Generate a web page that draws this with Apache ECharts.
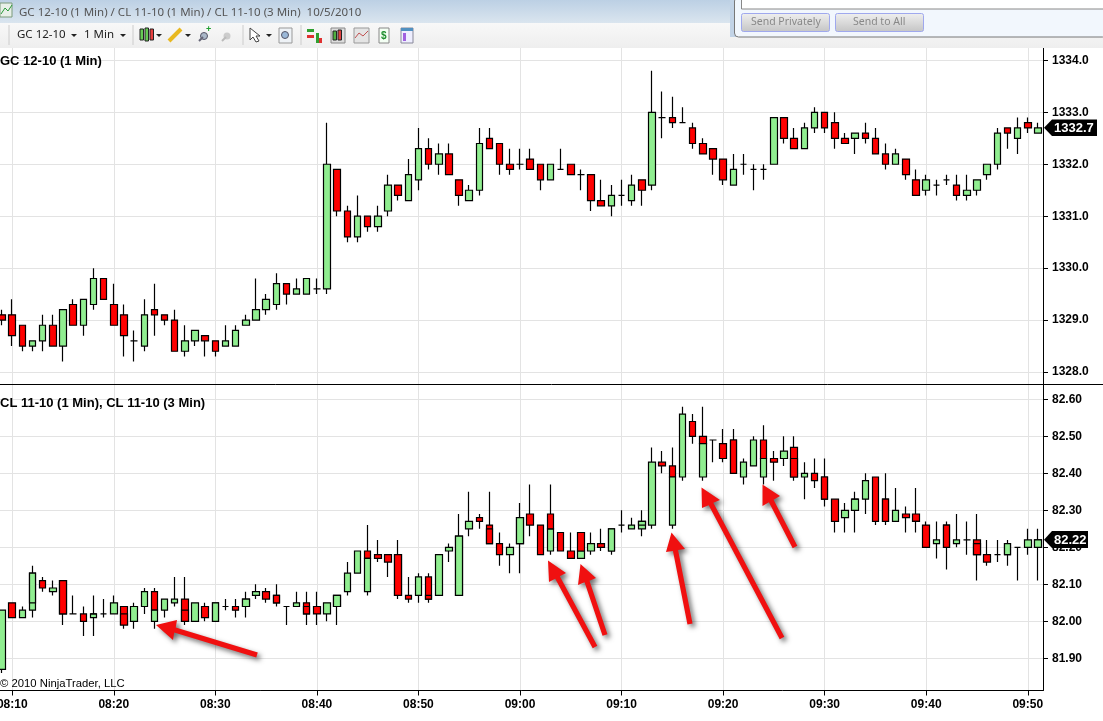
<!DOCTYPE html>
<html><head><meta charset="utf-8">
<style>html,body{margin:0;padding:0;background:#fff}#c{width:1103px;height:721px}</style>
<script src="https://cdn.jsdelivr.net/npm/echarts@6/dist/echarts.min.js"></script>
</head><body><div id="c"></div>
<script>
const firstMinute = 8*60+9;
const minuteCount = 103;
const categories = [];
for (let m=0;m<minuteCount;m++){const t=firstMinute+m;categories.push(String(Math.floor(t/60)).padStart(2,'0')+':'+String(t%60).padStart(2,'0'));}
// rows: [open, close, low, high]
const gcBars = [
[1329.1,1329.0,1328.9,1329.2],[1329.1,1328.7,1328.5,1329.4],[1328.9,1328.5,1328.4,1328.9],[1328.5,1328.6,1328.4,1328.6],
[1328.6,1328.9,1328.4,1329.1],[1328.9,1328.5,1328.5,1329.1],[1328.5,1329.2,1328.2,1329.2],[1329.3,1328.9,1328.9,1329.4],
[1328.9,1329.4,1328.7,1329.4],[1329.3,1329.8,1329.2,1330.0],[1329.8,1329.4,1329.4,1329.8],[1329.3,1328.9,1328.9,1329.7],
[1329.1,1328.7,1328.3,1329.3],[1328.6,1328.6,1328.2,1328.8],[1328.5,1329.1,1328.4,1329.4],[1329.2,1329.1,1328.7,1329.7],
[1329.1,1329.0,1328.9,1329.1],[1329.0,1328.4,1328.4,1329.2],[1328.4,1328.6,1328.3,1328.9],[1328.6,1328.8,1328.5,1328.8],
[1328.7,1328.6,1328.3,1328.7],[1328.6,1328.4,1328.3,1328.6],[1328.5,1328.6,1328.5,1328.9],[1328.5,1328.8,1328.5,1328.9],
[1328.9,1329.0,1328.9,1329.1],[1329.0,1329.2,1329.0,1329.8],[1329.2,1329.4,1329.1,1329.5],[1329.3,1329.7,1329.2,1329.9],
[1329.7,1329.5,1329.3,1329.7],[1329.5,1329.6,1329.5,1329.8],[1329.5,1329.8,1329.5,1329.8],[1329.6,1329.6,1329.5,1329.8],
[1329.6,1332.0,1329.5,1332.8],[1331.9,1331.1,1331.0,1331.9],[1331.1,1330.6,1330.5,1331.2],[1330.6,1331.0,1330.5,1331.4],
[1331.0,1330.8,1330.7,1331.0],[1330.8,1331.0,1330.7,1331.2],[1331.1,1331.6,1331.0,1331.8],[1331.6,1331.4,1331.3,1331.6],
[1331.3,1331.8,1331.3,1332.1],[1331.7,1332.3,1331.5,1332.7],[1332.3,1332.0,1331.9,1332.5],[1332.0,1332.2,1331.8,1332.4],
[1332.2,1331.8,1331.8,1332.4],[1331.7,1331.4,1331.2,1331.7],[1331.3,1331.5,1331.3,1331.6],[1331.5,1332.4,1331.4,1332.7],
[1332.5,1332.3,1332.3,1332.7],[1332.4,1332.0,1331.8,1332.4],[1332.0,1331.9,1331.8,1332.3],[1332.0,1332.0,1331.9,1332.3],
[1332.1,1331.9,1331.9,1332.3],[1332.0,1331.7,1331.5,1332.0],[1331.7,1332.0,1331.7,1332.0],[1331.9,1331.9,1331.9,1332.3],
[1332.0,1331.8,1331.8,1332.0],[1331.8,1331.8,1331.5,1331.9],[1331.8,1331.3,1331.1,1331.8],[1331.3,1331.2,1331.2,1331.7],
[1331.2,1331.4,1331.0,1331.6],[1331.4,1331.4,1331.2,1331.7],[1331.3,1331.6,1331.2,1331.8],[1331.7,1331.5,1331.2,1331.7],
[1331.6,1333.0,1331.5,1333.8],[1332.9,1332.9,1332.5,1333.4],[1332.9,1332.8,1332.7,1333.3],[1332.8,1332.8,1332.8,1333.1],
[1332.7,1332.4,1332.3,1332.8],[1332.4,1332.2,1332.2,1332.5],[1332.3,1332.1,1331.8,1332.3],[1332.1,1331.7,1331.6,1332.1],
[1331.6,1331.9,1331.6,1332.2],[1332.0,1332.0,1331.8,1332.2],[1331.9,1331.9,1331.5,1332.0],[1331.9,1331.9,1331.7,1332.0],
[1332.0,1332.9,1332.0,1332.9],[1332.9,1332.5,1332.4,1332.9],[1332.5,1332.3,1332.3,1332.7],[1332.3,1332.7,1332.3,1332.8],
[1332.7,1333.0,1332.6,1333.1],[1333.0,1332.7,1332.6,1333.0],[1332.8,1332.5,1332.3,1333.0],[1332.5,1332.4,1332.4,1332.6],
[1332.5,1332.6,1332.2,1332.6],[1332.6,1332.5,1332.4,1332.8],[1332.5,1332.2,1332.2,1332.7],[1332.2,1332.0,1331.9,1332.4],
[1332.0,1332.2,1332.0,1332.3],[1332.1,1331.8,1331.7,1332.1],[1331.7,1331.4,1331.4,1331.9],[1331.5,1331.7,1331.4,1331.8],
[1331.6,1331.6,1331.4,1331.7],[1331.7,1331.7,1331.6,1331.8],[1331.6,1331.4,1331.3,1331.8],[1331.4,1331.5,1331.3,1331.8],
[1331.5,1331.7,1331.4,1331.7],[1331.8,1332.0,1331.7,1332.0],[1332.0,1332.6,1331.9,1332.7],[1332.7,1332.6,1332.3,1332.7],
[1332.5,1332.7,1332.2,1332.9],[1332.8,1332.7,1332.6,1332.9],[1332.6,1332.7,1332.6,1332.8]
];
const cl1MinBars = [
[81.87,82.03,81.86,82.03],[82.05,82.01,82.01,82.05],[82.01,82.03,82.01,82.04],[82.03,82.13,82.01,82.15],
[82.11,82.09,82.08,82.12],[82.08,82.09,82.07,82.11],[82.11,82.02,81.99,82.11],[82.02,82.02,82.02,82.07],
[82.02,82.00,81.96,82.04],[82.01,82.02,81.96,82.07],[82.02,82.02,82.01,82.06],[82.02,82.05,82.02,82.07],
[82.04,81.99,81.98,82.04],[82.00,82.04,81.98,82.05],[82.04,82.08,82.02,82.09],[82.08,82.03,81.98,82.09],
[82.03,82.06,82.01,82.06],[82.05,82.06,82.04,82.12],[82.06,82.00,81.99,82.12],[82.00,82.05,82.00,82.05],
[82.04,82.01,82.00,82.05],[82.00,82.05,82.00,82.05],[82.04,82.04,82.03,82.06],[82.04,82.03,82.01,82.06],
[82.04,82.06,82.01,82.08],[82.07,82.08,82.06,82.10],[82.08,82.06,82.05,82.09],[82.07,82.05,82.04,82.10],
[82.04,82.04,81.99,82.04],[82.04,82.05,82.04,82.08],[82.05,82.02,81.99,82.08],[82.04,82.02,81.99,82.08],
[82.02,82.05,82.00,82.05],[82.04,82.07,81.99,82.07],[82.08,82.13,82.07,82.16],[82.13,82.19,82.13,82.19],
[82.19,82.17,82.07,82.26],[82.18,82.17,82.16,82.22],[82.18,82.16,82.12,82.18],[82.18,82.07,82.06,82.22],
[82.07,82.06,82.05,82.12],[82.07,82.12,82.05,82.13],[82.12,82.06,82.05,82.13],[82.07,82.18,82.07,82.18],
[82.19,82.20,82.16,82.21],[82.07,82.23,82.07,82.29],[82.25,82.27,82.23,82.35],[82.28,82.27,82.25,82.29],
[82.26,82.21,82.21,82.35],[82.21,82.18,82.15,82.24],[82.18,82.20,82.13,82.21],[82.21,82.28,82.13,82.32],
[82.29,82.26,82.23,82.37],[82.26,82.18,82.18,82.26],[82.19,82.25,82.18,82.37],[82.24,82.19,82.19,82.24],
[82.19,82.17,82.17,82.24],[82.17,82.19,82.17,82.24],[82.19,82.21,82.18,82.24],[82.21,82.20,82.19,82.25],
[82.19,82.25,82.18,82.25],[82.26,82.26,82.24,82.30],[82.25,82.26,82.25,82.28],[82.25,82.27,82.23,82.30],
[82.26,82.43,82.25,82.47],[82.43,82.42,82.40,82.46],[82.42,82.39,82.25,82.47],[82.39,82.56,82.38,82.58],
[82.54,82.50,82.48,82.56],[82.50,82.48,82.38,82.58],[82.49,82.49,82.43,82.49],[82.48,82.44,82.43,82.52],
[82.49,82.40,82.40,82.52],[82.39,82.43,82.37,82.44],[82.42,82.49,82.42,82.50],[82.49,82.44,82.37,82.53],
[82.44,82.43,82.38,82.46],[82.44,82.46,82.42,82.50],[82.47,82.39,82.38,82.50],[82.39,82.40,82.33,82.43],
[82.40,82.38,82.36,82.44],[82.39,82.33,82.31,82.44],[82.33,82.27,82.24,82.33],[82.28,82.30,82.24,82.32],
[82.30,82.33,82.24,82.35],[82.33,82.38,82.29,82.40],[82.39,82.27,82.26,82.39],[82.33,82.27,82.26,82.40],
[82.27,82.30,82.27,82.36],[82.29,82.28,82.24,82.31],[82.29,82.27,82.24,82.36],[82.26,82.20,82.20,82.27],
[82.21,82.22,82.17,82.27],[82.26,82.20,82.14,82.27],[82.21,82.22,82.20,82.29],[82.22,82.22,82.18,82.27],
[82.22,82.18,82.11,82.29],[82.18,82.16,82.15,82.22],[82.18,82.18,82.16,82.22],[82.18,82.21,82.15,82.22],
[82.20,82.20,82.11,82.20],[82.20,82.22,82.18,82.25],[82.20,82.22,82.11,82.25]
];
const cl3MinLabels = ['08:12','08:15','08:18','08:21','08:24','08:27','08:30','08:33','08:36','08:39','08:42','08:45','08:48','08:51','08:54','08:57','09:00','09:03','09:06','09:09','09:12','09:15','09:18','09:21','09:24','09:27','09:30','09:33','09:36','09:39','09:42','09:45','09:48','09:51'];
const cl3MinOpen  = [82.05,82.11,82.02,82.02,82.00,82.03,82.00,82.04,82.07,82.04,82.04,82.08,82.18,82.07,82.07,82.25,82.21,82.29,82.24,82.19,82.26,82.26,82.39,82.49,82.39,82.44,82.39,82.33,82.33,82.27,82.26,82.21,82.18,82.20];
const cl3MinClose = [82.13,82.02,82.02,81.99,82.03,82.00,82.05,82.06,82.05,82.02,82.07,82.17,82.07,82.06,82.23,82.21,82.28,82.25,82.19,82.25,82.27,82.39,82.48,82.40,82.44,82.39,82.33,82.33,82.27,82.27,82.20,82.18,82.21,82.22];
const gcTitle='GC 12-10 (1 Min)', clTitle='CL 11-10 (1 Min), CL 11-10 (3 Min)';
const gcLast='1332.7', clLast='82.22';

const cl3MinBars = categories.map(c=>{const i=cl3MinLabels.indexOf(c);if(i<0)return '-';
  const o=cl3MinOpen[i],cl=cl3MinClose[i];return [o,cl,Math.min(o,cl),Math.max(o,cl)];});

const UP='#90EE90',DOWN='#FF0000',GRID='#e3e3e3',FONT='"Liberation Sans",Arial,sans-serif',UI='"Noto Sans",sans-serif';
const candleStyle={color:UP,color0:DOWN,borderColor:'#000',borderColor0:'#000',borderColorDoji:'#000',borderWidth:1.2};
const BAR=7;
const isTen=(i,v)=>v.endsWith('0');
const xSplit={show:true,interval:isTen,alignWithLabel:true,lineStyle:{color:GRID,width:1}};
const hiddenX=(idx)=>({type:'category',gridIndex:idx,data:categories,boundaryGap:true,axisLine:{show:false},axisTick:{show:false},axisLabel:{show:false},splitLine:{show:false}});
const frameY=(idx)=>({type:'value',gridIndex:idx,position:'right',min:0,max:1,interval:1,axisLine:{show:true,onZero:false,lineStyle:{color:'#000',width:1}},axisTick:{show:false},axisLabel:{show:false},splitLine:{show:false}});
function priceY(idx,min,max,step,dec){return{type:'value',gridIndex:idx,position:'right',min,max,interval:step,
  axisLine:{show:false,onZero:false},
  axisTick:{show:true,length:5,lineStyle:{color:'#000'}},
  axisLabel:{show:true,margin:9,color:'#000',fontFamily:FONT,fontSize:12,fontWeight:'bold',formatter:v=>v.toFixed(dec)},
  splitLine:{show:true,lineStyle:{color:GRID,width:1}}};}

function arrow(tail,tip,c1,c2){
  const bx=(c1[0]+c2[0])/2,by=(c1[1]+c2[1])/2;
  const dx=bx-tail[0],dy=by-tail[1],L=Math.hypot(dx,dy),nx=-dy/L*2.6,ny=dx/L*2.6;
  const sh={shadowColor:'rgba(0,0,0,0.55)',shadowBlur:5,shadowOffsetX:3,shadowOffsetY:3};
  return {type:'polygon',z:90,shape:{points:[tip,c1,[bx+nx,by+ny],[tail[0]+nx,tail[1]+ny],[tail[0]-nx,tail[1]-ny],[bx-nx,by-ny],c2]},style:Object.assign({fill:'#f01010'},sh)};
}
const rect=(x,y,w,h,fill,extra)=>({type:'rect',z:80,shape:Object.assign({x,y,width:w,height:h},extra&&extra.shape||{}),style:Object.assign({fill},extra&&extra.style||{})});
const text=(x,y,t,font,fill,extra)=>({type:'text',z:95,x,y,style:Object.assign({text:t,font,fill,textVerticalAlign:'middle'},extra||{})});
const grad=(a,b)=>({type:'linear',x:0,y:0,x2:0,y2:1,colorStops:[{offset:0,color:a},{offset:1,color:b}]});
const tri=(x,y)=>({type:'polygon',z:95,shape:{points:[[x,y],[x+6,y],[x+3,y+3]]},style:{fill:'#222'}});
const smallCandle=(x,y,h,fill)=>rect(x,y,3.5,h,fill,{style:{stroke:'#222',lineWidth:1}});

const graphic=[
  // title bar + toolbar
  rect(0,0,1103,23,grad('#bcd0e4','#dae5ef')),
  rect(0,23,1103,25,grad('#f8f8f8','#eeeeee')),
  text(19,13,'GC 12-10 (1 Min) / CL 11-10 (1 Min) / CL 11-10 (3 Min)  10/5/2010','11.5px '+UI,'#555'),
  text(17,35,'GC 12-10','11.5px '+UI,'#222'),
  text(84,35,'1 Min','11.5px '+UI,'#222'),
  tri(71,34),tri(120,34),tri(156,34),tri(185,34),tri(266,34),
  rect(0,3,12,14,'#e8f0e8',{style:{stroke:'#7a9a7a',lineWidth:1}}),
  {type:'polyline',z:95,shape:{points:[[1,14],[5,8],[8,11],[12,5]]},style:{fill:'none',stroke:'#2a9a3a',lineWidth:1}},
  smallCandle(140,29,11,'#66cc55'),smallCandle(145,28,13,'#66cc55'),smallCandle(150,29,11,'#e84040'),
  {type:'line',z:95,shape:{x1:169,y1:41,x2:181,y2:29},style:{stroke:'#e8b820',lineWidth:4}},
  {type:'circle',z:95,shape:{cx:204,cy:36,r:3.5},style:{fill:'#aab8c8',stroke:'#556'}},
  {type:'line',z:95,shape:{x1:199,y1:41,x2:203,y2:37},style:{stroke:'#667',lineWidth:2}},
  text(206,30,'+','bold 9px '+FONT,'#20a030'),
  {type:'circle',z:95,shape:{cx:227,cy:36,r:3.5},style:{fill:'#ccc'}},
  {type:'line',z:95,shape:{x1:222,y1:41,x2:226,y2:37},style:{stroke:'#bbb',lineWidth:2}},
  {type:'polygon',z:95,shape:{points:[[250,28],[260,36],[256,36],[259,41],[256,42],[253,37],[250,40]]},style:{fill:'#fff',stroke:'#444'}},
  rect(279,28,13,15,'#eef2f6',{style:{stroke:'#999',lineWidth:1}}),
  {type:'circle',z:95,shape:{cx:285,cy:35,r:3.5},style:{fill:'#9ab8d8',stroke:'#556'}},
  rect(307,29,7,3,'#30a030'),rect(307,35,7,3,'#e03030'),rect(316,33,3,10,'#30a030'),rect(319,38,3,5,'#e03030'),
  rect(331,28,14,15,'#ddd',{style:{stroke:'#888',lineWidth:1}}),smallCandle(333,31,9,'#50b040'),smallCandle(338,30,10,'#e04040'),
  rect(354,28,15,15,'#e4e4e4',{style:{stroke:'#999',lineWidth:1}}),
  {type:'polyline',z:95,shape:{points:[[355,38],[359,33],[363,36],[368,31]]},style:{fill:'none',stroke:'#c05050',lineWidth:1}},
  rect(379,28,10,15,'#f4fff4',{style:{stroke:'#888',lineWidth:1}}),text(381,36,'$','bold 10px '+FONT,'#209030'),
  rect(401,28,12,15,'#eef',{style:{stroke:'#889',lineWidth:1}}),rect(403,33,3,8,'#a060e0'),rect(401,28,12,3,'#5090c0'),
  {type:'line',z:95,shape:{x1:9,y1:25,x2:9,y2:45},style:{stroke:'#ccc'}},
  {type:'line',z:95,shape:{x1:133,y1:25,x2:133,y2:45},style:{stroke:'#ccc'}},
  {type:'line',z:95,shape:{x1:243,y1:25,x2:243,y2:45},style:{stroke:'#ccc'}},
  {type:'line',z:95,shape:{x1:301,y1:25,x2:301,y2:45},style:{stroke:'#ccc'}},
  // chat panel
  rect(730,0,373,37,'#c2d3e6'),
  rect(734.5,-3,372,40,'#f2f7fd',{shape:{r:4},style:{stroke:'#777',lineWidth:1}}),
  rect(741.5,-3,366,12,'#fff',{style:{stroke:'#888',lineWidth:1}}),
  rect(741.5,13.5,88,18,grad('#f0f0f0','#c4c4c4'),{shape:{r:2},style:{stroke:'#9fa8ee',lineWidth:1}}),
  rect(835.5,13.5,88,18,grad('#f0f0f0','#c4c4c4'),{shape:{r:2},style:{stroke:'#9fa8ee',lineWidth:1}}),
  text(751,22,'Send Privately','10.5px '+UI,'#888'),
  text(853,22,'Send to All','10.5px '+UI,'#888'),
  // panes
  {type:'line',z:85,shape:{x1:0,y1:384.5,x2:1103,y2:384.5},style:{stroke:'#000',lineWidth:1}},
  text(0,61,gcTitle,'bold 13px '+FONT,'#000'),
  text(0,403,clTitle,'bold 13px '+FONT,'#000'),
  text(0,684,'© 2010 NinjaTrader, LLC','11.3px '+FONT,'#000'),
  // last-price tags
  {type:'polygon',z:92,shape:{points:[[1044,127.7],[1052,119.5],[1097,119.5],[1097,136],[1052,136]]},style:{fill:'#000'}},
  text(1054,128,gcLast,'bold 13px '+FONT,'#fff'),
  {type:'polygon',z:92,shape:{points:[[1044,539.7],[1052,531],[1088,531],[1088,548],[1052,548]]},style:{fill:'#000'}},
  text(1054,540,clLast,'bold 13px '+FONT,'#fff'),
  // arrows
  arrow([257,655],[156,625],[177,620],[173,640]),
  arrow([595,647],[548,560.5],[566,573],[549,582]),
  arrow([605,635],[580.5,564],[596,578],[578,585]),
  arrow([690,624],[671.5,532.5],[685,549],[666,552]),
  arrow([782,638],[701.5,487.5],[720,500],[702,508]),
  arrow([795,547],[762.5,484.5],[780,496],[762.5,506])
];

const gridX={left:-3,width:1046,outerBoundsMode:'none',containLabel:false};
const chart=echarts.init(document.getElementById('c'),null,{renderer:'canvas',width:1103,height:721});
chart.setOption({
  animation:false,backgroundColor:'#fff',
  grid:[
    Object.assign({top:48,height:336},gridX),       // top pane frame
    Object.assign({top:60.4,height:311.6},gridX),   // GC price scale 1334..1328
    Object.assign({top:385,height:305.5},gridX),    // bottom pane frame
    Object.assign({top:399.3,height:259},gridX)     // CL price scale 82.60..81.90
  ],
  xAxis:[
    {type:'category',gridIndex:0,data:categories,boundaryGap:true,axisLine:{show:false},axisTick:{show:false},axisLabel:{show:false},splitLine:xSplit},
    hiddenX(1),
    {type:'category',gridIndex:2,data:categories,boundaryGap:true,
     axisLine:{show:true,onZero:false,lineStyle:{color:'#000'}},
     axisTick:{show:true,interval:isTen,alignWithLabel:true,length:5,lineStyle:{color:'#000'}},
     axisLabel:{show:true,interval:isTen,margin:8,color:'#000',fontFamily:FONT,fontSize:12,fontWeight:'bold'},
     splitLine:xSplit},
    hiddenX(3)
  ],
  yAxis:[frameY(0),priceY(1,1328,1334,1,1),frameY(2),priceY(3,81.9,82.6,0.1,2)],
  series:[
    {type:'candlestick',name:'GC 12-10 (1 Min)',xAxisIndex:1,yAxisIndex:1,data:gcBars,barWidth:BAR,clip:false,itemStyle:candleStyle},
    {type:'candlestick',name:'CL 11-10 (1 Min)',xAxisIndex:3,yAxisIndex:3,data:cl1MinBars,barWidth:BAR,clip:false,itemStyle:candleStyle},
    {type:'candlestick',name:'CL 11-10 (3 Min)',xAxisIndex:3,yAxisIndex:3,data:cl3MinBars,barWidth:BAR,clip:false,itemStyle:candleStyle}
  ],
  graphic:{elements:graphic}
});
</script></body></html>
